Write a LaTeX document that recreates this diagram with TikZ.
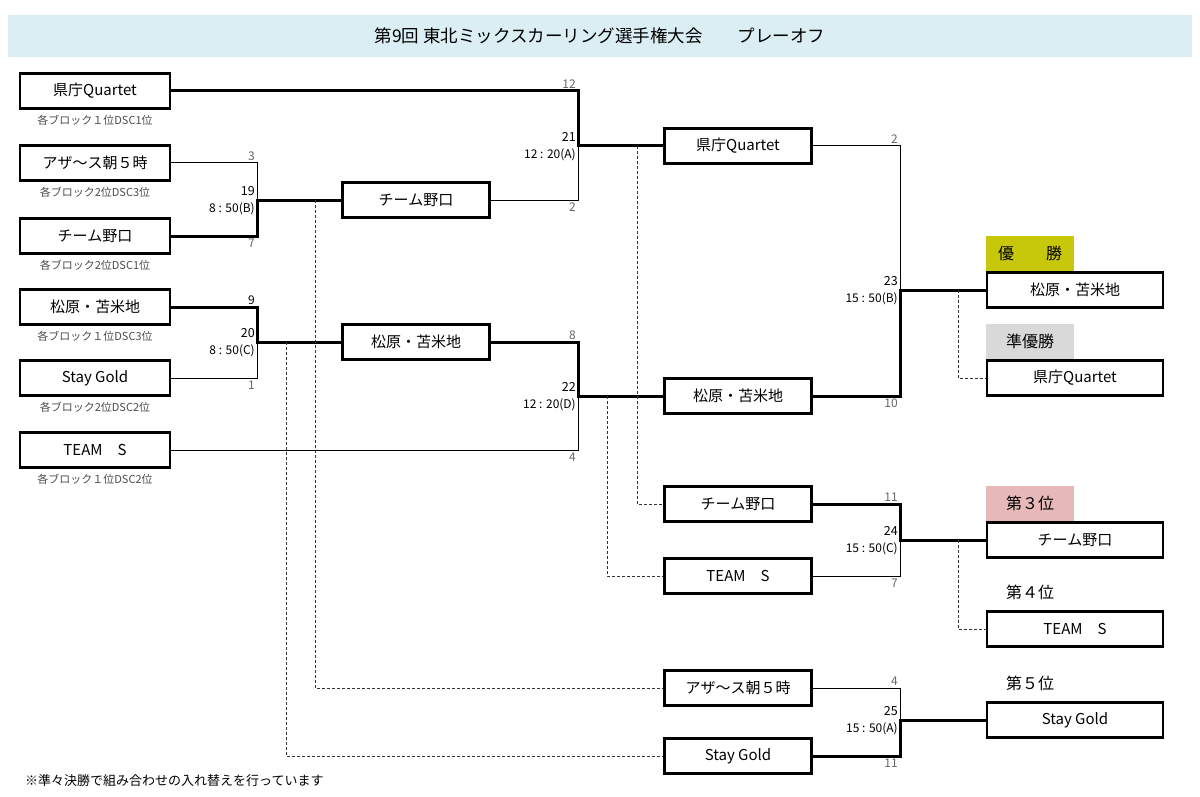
\documentclass[tikz,border=0pt]{standalone}
\usepackage{fontspec}
\setmainfont{Noto Sans CJK JP}
\usepackage{xcolor}
\usepackage{tikz}
\usetikzlibrary{positioning,calc}
\definecolor{titleblue}{HTML}{DAEEF3}
\definecolor{winyellow}{HTML}{C8C80A}
\definecolor{runnergray}{HTML}{D9D9D9}
\definecolor{thirdpink}{HTML}{E6B9B8}
\tikzset{
  titleband/.style={fill=titleblue,minimum width=1184pt,minimum height=42pt,inner sep=0pt,
    font=\fontsize{17.5}{20}\selectfont},
  teambox/.style={draw,line width=2.2pt,minimum height=35pt,inner sep=0pt,
    font=\fontsize{15}{18}\selectfont},
  leftbox/.style={teambox,minimum width=150pt},
  midbox/.style={teambox,minimum width=147pt},
  resultbox/.style={teambox,minimum width=176pt},
  seedlabel/.style={font=\fontsize{11}{13}\selectfont,text=black!70,inner sep=0pt},
  rankbox/.style={minimum width=88pt,minimum height=35pt,inner sep=0pt,anchor=south west,
    font=\fontsize{16}{19}\selectfont},
  winline/.style={line width=3pt},
  loseline/.style={line width=1pt},
  moveline/.style={line width=0.8pt,densely dashed,draw=black!80},
  topscore/.style={font=\fontsize{12}{14}\selectfont,text=black!60,inner sep=1pt,
    anchor=south east,xshift=-1pt,yshift=1pt},
  botscore/.style={font=\fontsize{12}{14}\selectfont,text=black!60,inner sep=1pt,
    anchor=north east,xshift=-1pt,yshift=-2pt},
  winscore/.style={font=\fontsize{12.5}{14}\selectfont,inner sep=1pt,
    anchor=south east,xshift=-1pt,yshift=3pt},
  timelabel/.style={font=\fontsize{12}{14}\selectfont,inner sep=1pt,
    anchor=north east,xshift=-1pt,yshift=-1pt},
  footnote/.style={font=\fontsize{13}{15}\selectfont,anchor=west,inner sep=0pt}
}
\begin{document}
\begin{tikzpicture}[x=1pt,y=-1pt]
  \useasboundingbox (0,0) rectangle (1200,797);
  \node[titleband] (title) at (600,36) {第9回 東北ミックスカーリング選手権大会　　プレーオフ};

  % seeds
  \node[leftbox] (t1) at (95,91) {県庁Quartet};
  \node[leftbox] (t2) at (95,163) {アザ～ス朝５時};
  \node[leftbox] (t3) at (95,236) {チーム野口};
  \node[leftbox] (t4) at (95,307) {松原・苫米地};
  \node[leftbox] (t5) at (95,378) {Stay Gold};
  \node[leftbox] (t6) at (95,450) {TEAM　S};
  \node[seedlabel,below=5pt of t1] (d1) {各ブロック１位DSC1位};
  \node[seedlabel,below=5pt of t2] (d2) {各ブロック2位DSC3位};
  \node[seedlabel,below=5pt of t3] (d3) {各ブロック2位DSC1位};
  \node[seedlabel,below=5pt of t4] (d4) {各ブロック１位DSC3位};
  \node[seedlabel,below=5pt of t5] (d5) {各ブロック2位DSC2位};
  \node[seedlabel,below=5pt of t6] (d6) {各ブロック１位DSC2位};

  % quarter final winners
  \node[midbox] (q1) at (416,200) {チーム野口};
  \node[midbox] (q2) at (416,342) {松原・苫米地};

  % third column
  \node[midbox] (c1) at (738,146) {県庁Quartet};
  \node[midbox] (c2) at (738,396) {松原・苫米地};
  \node[midbox] (c3) at (738,504) {チーム野口};
  \node[midbox] (c4) at (738,576) {TEAM　S};
  \node[midbox] (c5) at (738,688) {アザ～ス朝５時};
  \node[midbox] (c6) at (738,756) {Stay Gold};

  % results
  \node[resultbox] (w1) at (1075,290) {松原・苫米地};
  \node[resultbox] (w2) at (1075,378) {県庁Quartet};
  \node[resultbox] (w3) at (1075,540) {チーム野口};
  \node[resultbox] (w4) at (1075,629) {TEAM　S};
  \node[resultbox] (w5) at (1075,720) {Stay Gold};
  \node[rankbox,fill=winyellow] (rk1) at (w1.north west) {優　　勝};
  \node[rankbox,fill=runnergray] (rk2) at (w2.north west) {準優勝};
  \node[rankbox,fill=thirdpink] (rk3) at (w3.north west) {第３位};
  \node[rankbox] (rk4) at (w4.north west) {第４位};
  \node[rankbox] (rk5) at (w5.north west) {第５位};

  % match junctions
  \coordinate (g19) at (257,200);
  \coordinate (g20) at (257,342);
  \coordinate (g21) at (578,146);
  \coordinate (g22) at (578,396);
  \coordinate (g23) at (900,290);
  \coordinate (g24) at (900,540);
  \coordinate (g25) at (900,720);
  \coordinate (lb19) at (315,200);
  \coordinate (lb20) at (286,342);
  \coordinate (lb21) at (637,146);
  \coordinate (lb22) at (607,396);
  \coordinate (lb23) at (958,290);
  \coordinate (lb24) at (958,540);

  % bracket lines
  \draw[loseline] (t2.east) -| (g19);
  \draw[winline] (t3.east) -| (g19) -- (q1.west);
  \draw[winline] (t4.east) -| (g20) -- (q2.west);
  \draw[loseline] (t5.east) -| (g20);
  \draw[winline] (t1.east) -| (g21) -- (c1.west);
  \draw[loseline] (q1.east) -| (g21);
  \draw[winline] (q2.east) -| (g22) -- (c2.west);
  \draw[loseline] (t6.east) -| (g22);
  \draw[loseline] (c1.east) -| (g23);
  \draw[winline] (c2.east) -| (g23) -- (w1.west);
  \draw[winline] (c3.east) -| (g24) -- (w3.west);
  \draw[loseline] (c4.east) -| (g24);
  \draw[loseline] (c5.east) -| (g25);
  \draw[winline] (c6.east) -| (g25) -- (w5.west);

  % losers moved on
  \draw[moveline] (lb19) |- (c5.west);
  \draw[moveline] (lb20) |- (c6.west);
  \draw[moveline] (lb21) |- (c3.west);
  \draw[moveline] (lb22) |- (c4.west);
  \draw[moveline] (lb23) |- (w2.west);
  \draw[moveline] (lb24) |- (w4.west);

  % scores
  \node[topscore] (s19a) at (t2.east -| g19) {3};
  \node[winscore] (s19w) at (g19) {19};
  \node[timelabel] (s19t) at (g19) {8 : 50(B)};
  \node[botscore] (s19b) at (t3.east -| g19) {7};
  \node[topscore,text=black] (s20a) at (t4.east -| g20) {9};
  \node[winscore] (s20w) at (g20) {20};
  \node[timelabel] (s20t) at (g20) {8 : 50(C)};
  \node[botscore] (s20b) at (t5.east -| g20) {1};
  \node[topscore] (s21a) at (t1.east -| g21) {12};
  \node[winscore] (s21w) at (g21) {21};
  \node[timelabel] (s21t) at (g21) {12 : 20(A)};
  \node[botscore] (s21b) at (q1.east -| g21) {2};
  \node[topscore] (s22a) at (q2.east -| g22) {8};
  \node[winscore] (s22w) at (g22) {22};
  \node[timelabel] (s22t) at (g22) {12 : 20(D)};
  \node[botscore] (s22b) at (t6.east -| g22) {4};
  \node[topscore] (s23a) at (c1.east -| g23) {2};
  \node[winscore] (s23w) at (g23) {23};
  \node[timelabel] (s23t) at (g23) {15 : 50(B)};
  \node[botscore] (s23b) at (c2.east -| g23) {10};
  \node[topscore] (s24a) at (c3.east -| g24) {11};
  \node[winscore] (s24w) at (g24) {24};
  \node[timelabel] (s24t) at (g24) {15 : 50(C)};
  \node[botscore] (s24b) at (c4.east -| g24) {7};
  \node[topscore] (s25a) at (c5.east -| g25) {4};
  \node[winscore] (s25w) at (g25) {25};
  \node[timelabel] (s25t) at (g25) {15 : 50(A)};
  \node[botscore] (s25b) at (c6.east -| g25) {11};

  \node[footnote] (note) at (25,781) {※準々決勝で組み合わせの入れ替えを行っています};
\end{tikzpicture}
\end{document}
